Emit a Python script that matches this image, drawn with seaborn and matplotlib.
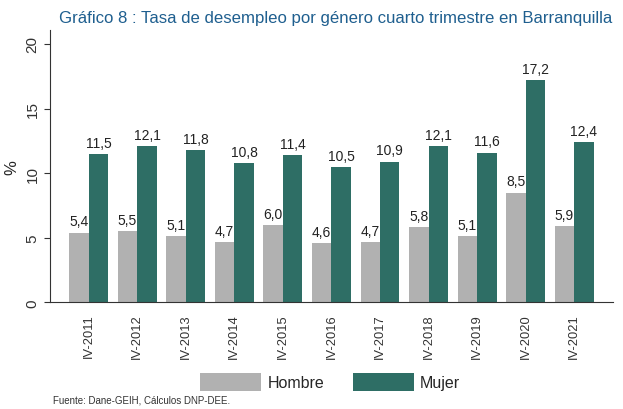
import matplotlib.pyplot as plt
import seaborn as sns
import pandas as pd

periodos = ["IV-2011", "IV-2012", "IV-2013", "IV-2014", "IV-2015", "IV-2016",
            "IV-2017", "IV-2018", "IV-2019", "IV-2020", "IV-2021"]
hombre = [5.4, 5.5, 5.1, 4.7, 6.0, 4.6, 4.7, 5.8, 5.1, 8.5, 5.9]
mujer = [11.5, 12.1, 11.8, 10.8, 11.4, 10.5, 10.9, 12.1, 11.6, 17.2, 12.4]

df = pd.DataFrame({"periodo": periodos * 2,
                   "genero": ["Hombre"] * len(periodos) + ["Mujer"] * len(periodos),
                   "tasa": hombre + mujer})

sns.set_style("white")
plt.rcParams["font.family"] = ["Liberation Sans", "DejaVu Sans"]

fig = plt.figure(figsize=(6.23, 4.10), dpi=100)
ax = fig.add_axes([0.080, 0.26, 0.904, 0.665])

sns.barplot(data=df, x="periodo", y="tasa", hue="genero",
            palette={"Hombre": "#b1b1b1", "Mujer": "#2e6e65"},
            width=0.8, saturation=1, linewidth=0, ax=ax, legend=True)

for cont in ax.containers:
    ax.bar_label(cont, labels=[f"{v:.1f}".replace(".", ",") for v in cont.datavalues],
                 padding=3, fontsize=10, color="#222222")

ax.set_ylim(0, 21.1)
ax.set_xlim(-0.8, 10.8)
ax.set_yticks([0, 5, 10, 15, 20])
ax.tick_params(axis="y", labelrotation=90, length=4, labelsize=11, left=True,
               colors="#333333")
ax.tick_params(axis="x", labelrotation=90, length=0, labelsize=9.3, pad=8,
               colors="#333333")
for lbl in ax.get_yticklabels():
    lbl.set_va("center")
ax.set_xlabel("")
ax.set_ylabel("%", fontsize=12)
sns.despine(ax=ax, top=True, right=True)
ax.spines["left"].set_color("#333333")
ax.spines["bottom"].set_color("#333333")

handles, labels = ax.get_legend_handles_labels()
ax.legend_.remove()
fig.legend(handles, labels, loc="lower center", bbox_to_anchor=(0.53, 0.01),
           ncol=2, frameon=False, fontsize=11.5, handlelength=3.8, handleheight=1.3,
           columnspacing=1.8, handletextpad=0.4)

fig.text(0.983, 0.955, "Gráfico 8 : Tasa de desempleo por género cuarto trimestre en Barranquilla",
         ha="right", va="center", fontsize=12.1, color="#1f5f8f")
fig.text(0.085, 0.015, "Fuente: Dane-GEIH, Cálculos DNP-DEE.", fontsize=7, color="#333333")

fig.savefig("out.png", dpi=100)
